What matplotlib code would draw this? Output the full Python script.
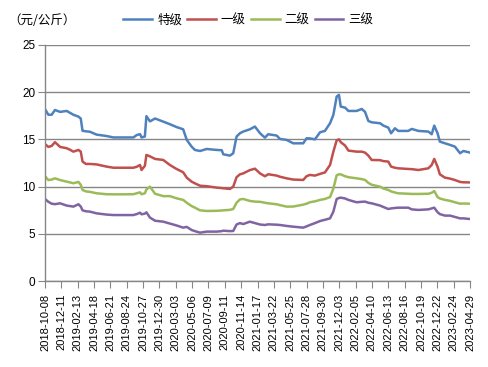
import matplotlib
matplotlib.use("Agg")
import matplotlib.pyplot as plt
import matplotlib.dates as mdates
import pandas as pd

plt.rcParams['font.family'] = ['Liberation Sans', 'Noto Sans CJK SC', 'DejaVu Sans']

dates = [
    "2018-10-08", "2018-10-21", "2018-11-03", "2018-11-16", "2018-12-06", "2019-01-01",
    "2019-01-14", "2019-01-27", "2019-02-16", "2019-02-25", "2019-03-04", "2019-03-17",
    "2019-04-02", "2019-04-28", "2019-06-06", "2019-07-03", "2019-08-11", "2019-09-19",
    "2019-10-02", "2019-10-15", "2019-10-21", "2019-11-03", "2019-11-09", "2019-11-23",
    "2019-12-13", "2020-01-14", "2020-02-09", "2020-03-06", "2020-04-01", "2020-04-15",
    "2020-05-04", "2020-05-17", "2020-06-06", "2020-07-02", "2020-08-10", "2020-08-30",
    "2020-09-05", "2020-10-01", "2020-10-14", "2020-10-27", "2020-11-09", "2020-11-22",
    "2020-12-18", "2021-01-07", "2021-01-27", "2021-02-15", "2021-02-28", "2021-04-02",
    "2021-04-15", "2021-05-11", "2021-06-06", "2021-07-15", "2021-07-28", "2021-08-10",
    "2021-08-30", "2021-09-19", "2021-10-08", "2021-10-28", "2021-11-10", "2021-11-23",
    "2021-12-02", "2021-12-09", "2021-12-26", "2022-01-08", "2022-02-09", "2022-03-01",
    "2022-03-14", "2022-03-27", "2022-04-09", "2022-05-12", "2022-05-25", "2022-06-13",
    "2022-06-24", "2022-07-09", "2022-07-22", "2022-08-30", "2022-09-13", "2022-10-09",
    "2022-11-17", "2022-11-30", "2022-12-10", "2022-12-23", "2023-01-01", "2023-01-21",
    "2023-02-10", "2023-03-01", "2023-03-21", "2023-04-03", "2023-04-29",
]

special = [
    18.2, 17.6, 17.6, 18.1, 17.9, 18.0, 17.8, 17.6, 17.4, 17.2, 15.9, 15.85,
    15.8, 15.5, 15.35, 15.2, 15.2, 15.2, 15.45, 15.55, 15.2, 15.3, 17.45, 16.9,
    17.2, 16.87, 16.6, 16.3, 16.06, 14.94, 14.23, 13.88, 13.77, 13.98, 13.88, 13.85,
    13.42, 13.28, 13.53, 15.29, 15.64, 15.82, 16.06, 16.35, 15.64, 15.18, 15.54, 15.4,
    15.04, 14.94, 14.58, 14.58, 15.11, 15.1, 15.0, 15.75, 15.89, 16.7, 17.58, 19.52,
    19.7, 18.46, 18.35, 18.0, 18.0, 18.21, 17.9, 16.94, 16.8, 16.7, 16.45, 16.24,
    15.64, 16.17, 15.89, 15.89, 16.1, 15.89, 15.82, 15.54, 16.45, 15.64, 14.76, 14.58,
    14.41, 14.23, 13.53, 13.77, 13.6,
]

grade1 = [
    14.5, 14.2, 14.3, 14.7, 14.2, 14.06, 13.9, 13.7, 13.88, 13.7, 12.65, 12.4,
    12.4, 12.35, 12.12, 12.0, 12.0, 12.0, 12.1, 12.29, 11.76, 12.2, 13.35, 13.2,
    12.93, 12.82, 12.29, 11.87, 11.52, 10.95, 10.53, 10.35, 10.1, 10.05, 9.9, 9.85,
    9.83, 9.76, 10.0, 11.0, 11.3, 11.4, 11.75, 11.9, 11.4, 11.1, 11.31, 11.17,
    11.05, 10.88, 10.75, 10.71, 11.1, 11.24, 11.17, 11.35, 11.5, 12.29, 13.7, 14.9,
    15.0, 14.7, 14.34, 13.81, 13.7, 13.7, 13.6, 13.28, 12.82, 12.8, 12.7, 12.65,
    12.12, 12.0, 11.94, 11.87, 11.85, 11.76, 11.94, 12.29, 12.93, 12.1, 11.3, 10.95,
    10.85, 10.7, 10.5, 10.46, 10.45,
]

grade2 = [
    11.1, 10.7, 10.75, 10.88, 10.7, 10.53, 10.45, 10.36, 10.5, 10.2, 9.65, 9.5,
    9.45, 9.3, 9.2, 9.19, 9.19, 9.2, 9.3, 9.4, 9.2, 9.3, 9.7, 10.0,
    9.25, 9.0, 9.0, 8.77, 8.6, 8.3, 7.95, 7.78, 7.5, 7.43, 7.45, 7.48,
    7.5, 7.55, 7.64, 8.3, 8.65, 8.7, 8.49, 8.42, 8.4, 8.3, 8.24, 8.14,
    8.05, 7.89, 7.9, 8.1, 8.2, 8.35, 8.45, 8.6, 8.7, 8.9, 9.8, 11.2,
    11.31, 11.3, 11.1, 11.0, 10.88, 10.8, 10.71, 10.4, 10.2, 10.0, 9.8, 9.65,
    9.5, 9.38, 9.3, 9.25, 9.23, 9.23, 9.25, 9.35, 9.54, 8.9, 8.75, 8.6,
    8.5, 8.35, 8.2, 8.22, 8.2,
]

grade3 = [
    8.7, 8.4, 8.2, 8.15, 8.24, 8.0, 7.95, 7.89, 8.14, 7.9, 7.5, 7.4,
    7.36, 7.18, 7.05, 7.0, 7.0, 7.0, 7.1, 7.25, 7.08, 7.15, 7.29, 6.73,
    6.4, 6.3, 6.1, 5.9, 5.67, 5.75, 5.42, 5.3, 5.14, 5.25, 5.25, 5.3,
    5.35, 5.3, 5.32, 6.0, 6.15, 6.05, 6.3, 6.15, 6.0, 5.95, 6.02, 5.98,
    5.95, 5.85, 5.77, 5.67, 5.8, 5.95, 6.15, 6.37, 6.5, 6.65, 7.36, 8.7,
    8.8, 8.84, 8.75, 8.6, 8.35, 8.4, 8.42, 8.3, 8.24, 8.0, 7.85, 7.64,
    7.7, 7.75, 7.78, 7.78, 7.6, 7.54, 7.6, 7.7, 7.78, 7.3, 7.1, 6.94,
    6.94, 6.8, 6.65, 6.65, 6.58,
]

series_names = ["特级", "一级", "二级", "三级"]
series_colors = ["#4F81BD", "#C0504D", "#9BBB59", "#8064A2"]

tick_labels = [
    "2018-10-08", "2018-12-11", "2019-02-13", "2019-04-18", "2019-06-21", "2019-08-24",
    "2019-10-27", "2019-12-30", "2020-03-03", "2020-05-06", "2020-07-09", "2020-09-11",
    "2020-11-14", "2021-01-17", "2021-03-22", "2021-05-25", "2021-07-28", "2021-09-30",
    "2021-12-03", "2022-02-05", "2022-04-10", "2022-06-13", "2022-08-16", "2022-10-19",
    "2022-12-22", "2023-02-24", "2023-04-29",
]
y_ticks = [0, 5, 10, 15, 20, 25]

x = pd.to_datetime(dates)
ticks = pd.to_datetime(tick_labels)

fig = plt.figure(figsize=(4.88, 3.67), dpi=100)
ax = fig.add_axes([45 / 488, 1 - 281.3 / 367, 425 / 488, (281.3 - 44.7) / 367])

for vals, name, col in zip([special, grade1, grade2, grade3], series_names, series_colors):
    ax.plot(x, vals, color=col, lw=1.8, label=name, solid_joinstyle='round')

grid_col = "#868686"
ax.set_ylim(0, 25)
ax.set_yticks(y_ticks)
ax.yaxis.grid(True, color=grid_col, lw=1.0)
ax.set_axisbelow(True)
ax.set_xlim(ticks[0], ticks[-1])
ax.set_xticks(ticks)
ax.set_xticklabels(tick_labels, rotation=90, fontsize=8)
ax.tick_params(axis='y', labelsize=8.5, length=5, color=grid_col, direction='out', pad=2)
ax.tick_params(axis='x', length=5, color=grid_col, direction='out', pad=4)
for s in ['top', 'right']:
    ax.spines[s].set_visible(False)
for s in ['left', 'bottom']:
    ax.spines[s].set_color(grid_col)
    ax.spines[s].set_linewidth(1.0)

fig.text(8 / 488, 1 - 20 / 367, "（元/公斤）", fontsize=9, va='center', ha='left',
         family=['Noto Sans CJK SC', 'DejaVu Sans'])

leg = fig.legend(loc='center', bbox_to_anchor=(0.509, 1 - 20 / 367), ncol=4, frameon=False,
                 prop={'family': ['Noto Sans CJK SC', 'DejaVu Sans'], 'size': 9},
                 handlelength=2.3, handletextpad=0.4, columnspacing=0.4, borderpad=0.2)

fig.savefig("out.png", dpi=100)
